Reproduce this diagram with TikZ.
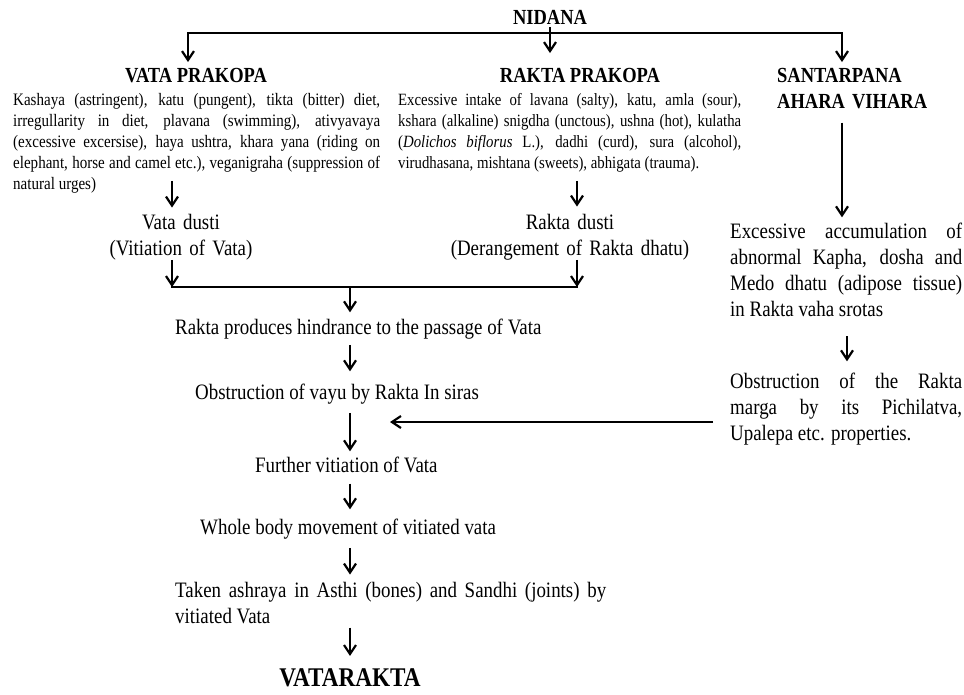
\documentclass[tikz,border=0pt]{standalone}
\usepackage{fontspec}
\setmainfont[FakeStretch=0.86]{Liberation Serif}
\usetikzlibrary{arrows.meta}
\hyphenpenalty=10000
\exhyphenpenalty=10000
\tolerance=10000
\emergencystretch=20pt
\begin{document}
\begin{tikzpicture}[x=1pt,y=-1pt,
  arr/.style={line width=2.2pt,-{Straight Barb[length=9pt,width=12pt]}},
  brk/.style={line width=2.6pt,line join=miter,{Straight Barb[length=9pt,width=12pt,line width=2.2pt]}-{Straight Barb[length=9pt,width=12pt,line width=2.2pt]}},
  barline/.style={line width=2.6pt,line cap=rect},
  head/.style={font=\fontsize{21.5}{26}\selectfont\bfseries,inner sep=0pt},
  txt/.style={font=\fontsize{22}{26}\selectfont,inner sep=0pt},
  para/.style={font=\fontsize{17.5}{21}\selectfont,inner sep=0pt,align=justify},
]
\useasboundingbox (0,0) rectangle (964,694);

% headings
\node[head,anchor=base] (nid) at (550,24) {NIDANA};
\node[head,anchor=base] (vp) at (196,82) {VATA PRAKOPA};
\node[head,anchor=base] (rp) at (580,82) {RAKTA PRAKOPA};
\node[head,anchor=base west,text width=170pt,align=left] (sa) at (777,82) {SANTARPANA\\AHARA VIHARA};

% cause paragraphs
\node[para,anchor=base west,text width=367pt] (vpara) at (13,105) {Kashaya (astringent), katu (pungent), tikta (bitter) diet,\linebreak irregullarity in diet, plavana (swimming), ativyavaya\linebreak (excessive excersise), haya ushtra, khara yana (riding on\linebreak elephant, horse and camel etc.), veganigraha (suppression of\linebreak natural urges)};
\node[para,font=\fontsize{17.2}{21}\selectfont,anchor=base west,text width=343pt] (rpara) at (398,105) {Excessive intake of lavana (salty), katu, amla (sour),\linebreak kshara (alkaline) snigdha (unctous), ushna (hot), kulatha\linebreak (\textit{Dolichos biflorus} L.), dadhi (curd), sura (alcohol),\linebreak virudhasana, mishtana (sweets), abhigata (trauma).};

% dusti
\node[txt,anchor=base,text width=250pt,align=center] (vd) at (181,229) {Vata dusti\\(Vitiation of Vata)};
\node[txt,anchor=base,text width=260pt,align=center] (rd) at (570,229) {Rakta dusti\\(Derangement of Rakta dhatu)};

% right column
\node[txt,anchor=base west,text width=232pt,align=justify] (acc) at (730,238) {Excessive accumulation of\linebreak abnormal Kapha, dosha and\linebreak Medo dhatu (adipose tissue)\linebreak in Rakta vaha srotas};
\node[txt,anchor=base west,text width=232pt,align=justify] (obs) at (730,388) {Obstruction of the Rakta\linebreak marga by its Pichilatva,\linebreak Upalepa etc. properties.};

% main column
\node[txt,anchor=base west] (rph) at (175,334) {Rakta produces hindrance to the passage of Vata};
\node[txt,anchor=base west] (obv) at (195,399) {Obstruction of vayu by Rakta In siras};
\node[txt,anchor=base west] (fur) at (255,472) {Further vitiation of Vata};
\node[txt,anchor=base west] (whole) at (200,534) {Whole body movement of vitiated vata};
\node[txt,anchor=base west,text width=431pt,align=justify] (taken) at (175,597) {Taken ashraya in Asthi (bones) and Sandhi (joints) by\linebreak vitiated Vata};
\node[font=\fontsize{27}{32}\selectfont\bfseries,inner sep=0pt,anchor=base] (vr) at (350,686) {VATARAKTA};

% helper coordinates
\coordinate (bl) at (188,33);
\coordinate (br) at (842,33);
\coordinate (vx) at (172,0);
\coordinate (rx) at (577,0);
\coordinate (cx) at (350,0);
\coordinate (ox) at (847,0);
\coordinate (jn) at (350,287);
\coordinate (hy) at (0,422);

% top bracket
\draw[brk,shorten <=5.5pt,shorten >=5.5pt] (bl |- vp.north) -- (bl) -- (br) -- (br |- sa.north);
\draw[arr,shorten <=3pt,shorten >=14.5pt] (nid.south) -- (nid.south |- rp.north);

% to dusti
\draw[arr,shorten <=-12pt,shorten >=6pt] (vx |- vpara.south) -- (vx |- vd.north);
\draw[arr,shorten <=9pt,shorten >=7pt] (rx |- rpara.south) -- (rx |- rd.north);

% join
\draw[arr] (vx |- vd.south) -- (vx |- jn);
\draw[arr] (rx |- rd.south) -- (rx |- jn);
\draw[barline] (vx |- jn) -- (rx |- jn);

% main chain
\draw[arr,shorten >=6pt] (jn) -- (cx |- rph.north);
\draw[arr,shorten <=6pt,shorten >=12pt] (cx |- rph.south) -- (cx |- obv.north);
\draw[arr,shorten <=9pt,shorten >=5pt] (cx |- obv.south) -- (cx |- fur.north);
\draw[arr,shorten <=11pt,shorten >=9pt] (cx |- fur.south) -- (cx |- whole.north);
\draw[arr,shorten <=9pt,shorten >=7pt] (cx |- whole.south) -- (cx |- taken.north);
\draw[arr,shorten <=4pt,shorten >=12pt] (cx |- taken.south) -- (cx |- vr.north);

% right chain
\draw[arr,shorten <=14pt,shorten >=5pt] (br |- sa.south) -- (br |- acc.north);
\draw[arr,shorten <=20pt,shorten >=11pt] (ox |- acc.south) -- (ox |- obs.north);
\draw[arr,shorten <=17pt,shorten >=40pt] (obs.west |- hy) -- (cx |- hy);
\end{tikzpicture}
\end{document}
